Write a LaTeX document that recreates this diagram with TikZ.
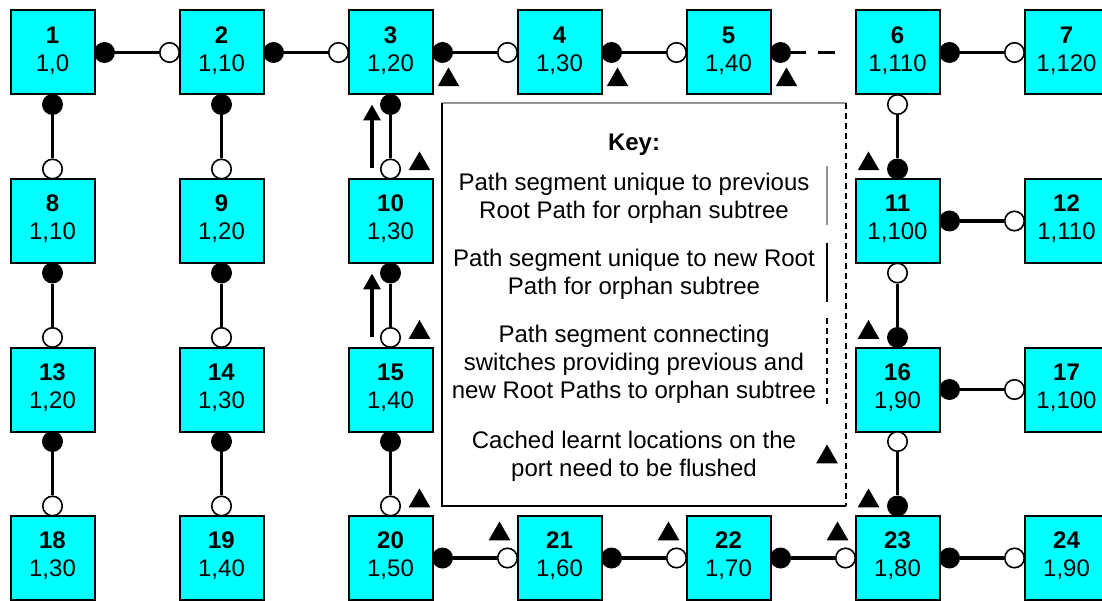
\documentclass[tikz,border=0pt]{standalone}
\usepackage{fontspec}
\setmainfont{Liberation Sans}
\usetikzlibrary{calc,arrows.meta,shapes.geometric}

\definecolor{switchfill}{RGB}{0,255,255}

\tikzset{
  sw/.style={draw=black, line width=2pt, fill=switchfill, minimum size=84pt,
    inner sep=0pt, align=center, text depth=7.5pt,
    font=\fontsize{24pt}{28pt}\selectfont},
  fport/.style={circle, fill=black, minimum size=21pt, inner sep=0pt},
  oport/.style={circle, fill=white, draw=black, line width=1.6pt,
    minimum size=19.5pt, inner sep=0pt},
  link/.style={line width=3.5pt},
  uparrow/.style={line width=3.5pt, -{Triangle[length=16pt,width=17pt]}},
  flushmark/.style={regular polygon, regular polygon sides=3, fill=black,
    minimum size=25pt, inner sep=0pt},
  keytext/.style={align=center, inner sep=0pt,
    font=\fontsize{24pt}{28pt}\selectfont},
  keyedge/.style={line width=2pt},
}

% horizontal link: designated port (filled) on the left switch, root port (open) on the right
\newcommand\hlink[2]{%
  \node[fport] (#1-E) at ($(#1.east)+(9,0)$) {};
  \node[oport] (#2-W) at ($(#2.west)+(-9,0)$) {};
  \draw[link] (#1-E) -- (#2-W);}
% vertical link: filled port below the upper switch, open port above the lower one
\newcommand\vlink[2]{%
  \node[fport] (#1-S) at ($(#1.south)+(0,9)$) {};
  \node[oport] (#2-N) at ($(#2.north)+(0,-9)$) {};
  \draw[link] (#1-S) -- (#2-N);}
% vertical link with the roles swapped
\newcommand\vlinkr[2]{%
  \node[oport] (#1-S) at ($(#1.south)+(0,9)$) {};
  \node[fport] (#2-N) at ($(#2.north)+(0,-9)$) {};
  \draw[link] (#1-S) -- (#2-N);}

\begin{document}
\begin{tikzpicture}[x=1pt,y=-1pt]
\useasboundingbox (0,0) rectangle (1102,601);
\clip (0,0) rectangle (1102,601);

% switches: bridge number and root priority/cost
\node[sw] (n1)  at (52.5,52.5)   {\textbf{1}\\1,0};
\node[sw] (n2)  at (221.5,52.5)  {\textbf{2}\\1,10};
\node[sw] (n3)  at (390.5,52.5)  {\textbf{3}\\1,20};
\node[sw] (n4)  at (559.5,52.5)  {\textbf{4}\\1,30};
\node[sw] (n5)  at (728.5,52.5)  {\textbf{5}\\1,40};
\node[sw] (n6)  at (897.5,52.5)  {\textbf{6}\\1,110};
\node[sw] (n7)  at (1066.5,52.5) {\textbf{7}\\1,120};

\node[sw] (n8)  at (52.5,221)    {\textbf{8}\\1,10};
\node[sw] (n9)  at (221.5,221)   {\textbf{9}\\1,20};
\node[sw] (n10) at (390.5,221)   {\textbf{10}\\1,30};
\node[sw] (n11) at (897.5,221)   {\textbf{11}\\1,100};
\node[sw] (n12) at (1066.5,221)  {\textbf{12}\\1,110};

\node[sw] (n13) at (52.5,389.5)  {\textbf{13}\\1,20};
\node[sw] (n14) at (221.5,389.5) {\textbf{14}\\1,30};
\node[sw] (n15) at (390.5,389.5) {\textbf{15}\\1,40};
\node[sw] (n16) at (897.5,389.5) {\textbf{16}\\1,90};
\node[sw] (n17) at (1066.5,389.5){\textbf{17}\\1,100};

\node[sw] (n18) at (52.5,558)    {\textbf{18}\\1,30};
\node[sw] (n19) at (221.5,558)   {\textbf{19}\\1,40};
\node[sw] (n20) at (390.5,558)   {\textbf{20}\\1,50};
\node[sw] (n21) at (559.5,558)   {\textbf{21}\\1,60};
\node[sw] (n22) at (728.5,558)   {\textbf{22}\\1,70};
\node[sw] (n23) at (897.5,558)   {\textbf{23}\\1,80};
\node[sw] (n24) at (1066.5,558)  {\textbf{24}\\1,90};

% links
\hlink{n1}{n2}
\hlink{n2}{n3}
\hlink{n3}{n4}
\hlink{n4}{n5}
\hlink{n6}{n7}
\hlink{n11}{n12}
\hlink{n16}{n17}
\hlink{n20}{n21}
\hlink{n21}{n22}
\hlink{n22}{n23}
\hlink{n23}{n24}
\vlink{n1}{n8}
\vlink{n8}{n13}
\vlink{n13}{n18}
\vlink{n2}{n9}
\vlink{n9}{n14}
\vlink{n14}{n19}
\vlink{n3}{n10}
\vlink{n10}{n15}
\vlink{n15}{n20}
\vlinkr{n6}{n11}
\vlinkr{n11}{n16}
\vlinkr{n16}{n23}

% connecting segment between switches 5 and 6
\node[fport] (n5-E) at ($(n5.east)+(9,0)$) {};
\coordinate (d56) at ($(n6.west)+(-20,0)$);
\draw[link, dash pattern=on 15pt off 12pt on 20pt off 20pt] (n5-E) -- (d56);

% direction of the previous root path
\draw[uparrow] ($(n10.north)+(-18.5,-10)$) -- ($(n3.south)+(-18.5,9)$);
\draw[uparrow] ($(n15.north)+(-18.5,-10)$) -- ($(n10.south)+(-18.5,9.5)$);

% ports whose learnt locations are flushed
\node[flushmark] (f1)  at ($(n3-E)+(6,27.5)$) {};
\node[flushmark] (f2)  at ($(n4-E)+(6,27.5)$) {};
\node[flushmark] (f3)  at ($(n5-E)+(6,27.5)$) {};
\node[flushmark] (f4)  at ($(n10-N)+(29,-5)$) {};
\node[flushmark] (f5)  at ($(n15-N)+(29,-5)$) {};
\node[flushmark] (f6)  at ($(n20-N)+(29,-5)$) {};
\node[flushmark] (f7)  at ($(n11-N)+(-29,-5)$) {};
\node[flushmark] (f8)  at ($(n16-N)+(-29,-5)$) {};
\node[flushmark] (f9)  at ($(n23-N)+(-29,-5)$) {};
\node[flushmark] (f10) at ($(n21-W)+(-8,-24)$) {};
\node[flushmark] (f11) at ($(n22-W)+(-8,-24)$) {};
\node[flushmark] (f12) at ($(n23-W)+(-8,-24)$) {};

% key
\node[minimum width=404pt, minimum height=403pt, inner sep=0pt] (key) at (644,304.5) {};
\draw[keyedge, draw=gray!85] (key.north west) -- (key.north east);
\draw[keyedge] (key.north west) -- (key.south west) -- (key.south east);
\draw[keyedge, dash pattern=on 6pt off 4pt] (key.north east) -- (key.south east);

\node[keytext] (kt0) at (634,145) {\textbf{Key:}};
\node[keytext] (kt1) at (634,198) {Path segment unique to previous\\Root Path for orphan subtree};
\node[keytext] (kt2) at (634,274) {Path segment unique to new Root\\Path for orphan subtree};
\node[keytext] (kt3) at (634,364) {Path segment connecting\\switches providing previous and\\new Root Paths to orphan subtree};
\node[keytext] (kt4) at (634,456) {Cached learnt locations on the\\port need to be flushed};

\draw[line width=2pt, draw=gray!85] (827,166) -- (827,225);
\draw[line width=2pt] (827,243) -- (827,302);
\draw[line width=2pt, dash pattern=on 6pt off 4pt] (827,318) -- (827,407);
\node[flushmark] (fk) at (827,457) {};
\end{tikzpicture}
\end{document}
